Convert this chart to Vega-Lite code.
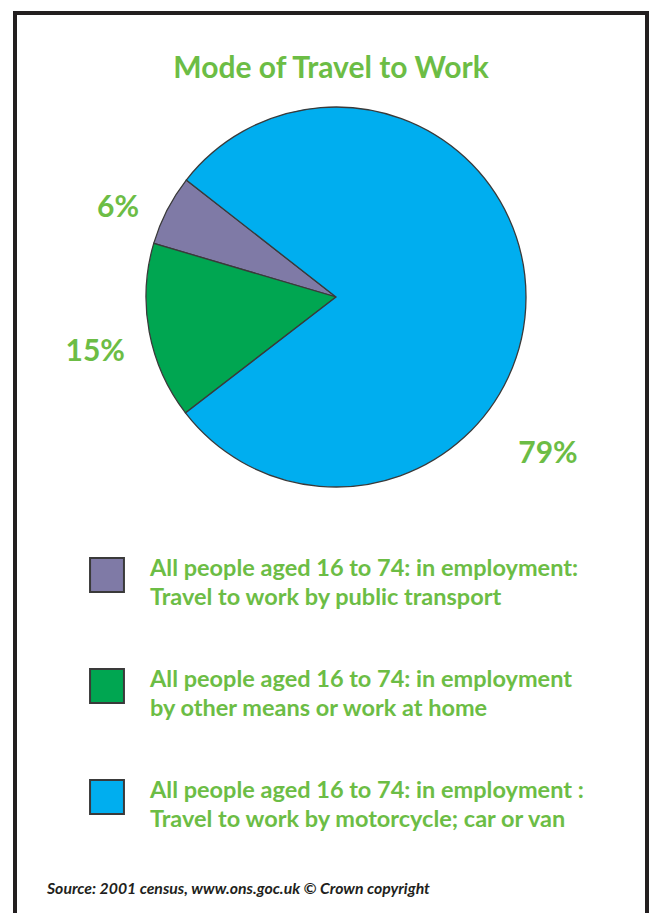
{
  "$schema": "https://vega.github.io/schema/vega-lite/v6.json",
  "autosize": {"type": "fit", "contains": "padding"},
  "width": 653,
  "height": 913,
  "padding": {"left": 15, "top": 13, "right": 6, "bottom": -4},
  "background": "white",
  "config": {"view": {"stroke": "#231f20", "strokeWidth": 4}, "font": "Lato"},
  "title": {"text": "Mode of Travel to Work", "color": "#6cbd45", "fontSize": 30, "font": "Lato", "fontWeight": "bold", "anchor": "middle", "offset": -71},
  "data": {"values": [
    {"mode": "Public transport", "pct": 6, "order": 1, "label": "6%", "legend": "All people aged 16 to 74: in employment:\nTravel to work by public transport"},
    {"mode": "Other means or work at home", "pct": 15, "order": 2, "label": "15%", "legend": "All people aged 16 to 74: in employment\nby other means or work at home"},
    {"mode": "Motorcycle, car or van", "pct": 79, "order": 3, "label": "79%", "legend": "All people aged 16 to 74: in employment :\nTravel to work by motorcycle; car or van"}
  ]},
  "encoding": {
    "color": {"field": "mode", "type": "nominal", "scale": {"domain": ["Public transport", "Other means or work at home", "Motorcycle, car or van"], "range": ["#7f7aa6", "#00a651", "#00aeef"]}, "legend": null}
  },
  "layer": [
    {
      "mark": {"type": "arc", "x": 321, "y": 284, "outerRadius": 190, "stroke": "#3a3a3a", "strokeWidth": 1.3},
      "encoding": {
        "theta": {"field": "pct", "type": "quantitative", "stack": true, "scale": {"range": [5.3756, -0.9076]}},
        "order": {"field": "order", "type": "quantitative"}
      }
    },
    {
      "mark": {"type": "text", "x": 321, "y": 284, "radius": 235, "dx": -9, "dy": 18, "fontSize": 30, "fontWeight": "bold", "align": "center", "baseline": "middle"},
      "encoding": {
        "theta": {"field": "pct", "type": "quantitative", "stack": true},
        "order": {"field": "order", "type": "quantitative"},
        "color": {"value": "#6cbd45"},
        "text": {"condition": {"test": "datum.order === 1", "field": "label"}, "value": ""}
      }
    },
    {
      "mark": {"type": "text", "x": 321, "y": 284, "radius": 247, "dx": 2, "dy": 10, "fontSize": 30, "fontWeight": "bold", "align": "center", "baseline": "middle"},
      "encoding": {
        "theta": {"field": "pct", "type": "quantitative", "stack": true},
        "order": {"field": "order", "type": "quantitative"},
        "color": {"value": "#6cbd45"},
        "text": {"condition": {"test": "datum.order === 2", "field": "label"}, "value": ""}
      }
    },
    {
      "mark": {"type": "text", "x": 321, "y": 284, "radius": 212, "dx": 0, "dy": 156, "fontSize": 30, "fontWeight": "bold", "align": "center", "baseline": "middle"},
      "encoding": {
        "theta": {"field": "pct", "type": "quantitative", "stack": true},
        "order": {"field": "order", "type": "quantitative"},
        "color": {"value": "#6cbd45"},
        "text": {"condition": {"test": "datum.order === 3", "field": "label"}, "value": ""}
      }
    },
    {
      "mark": {"type": "point", "shape": "square", "size": 1150, "filled": true, "opacity": 1, "stroke": "#3a3a3a", "strokeWidth": 2, "x": 92},
      "encoding": {
        "y": {"field": "mode", "type": "nominal", "sort": ["Public transport", "Other means or work at home", "Motorcycle, car or van"], "scale": {"type": "point", "range": [562, 784], "padding": 0}, "axis": null}
      }
    },
    {
      "mark": {"type": "text", "x": 135, "dy": -6, "align": "left", "baseline": "middle", "lineBreak": "\n", "lineHeight": 29, "fontSize": 23.5, "fontWeight": "bold"},
      "encoding": {
        "y": {"field": "mode", "type": "nominal", "sort": ["Public transport", "Other means or work at home", "Motorcycle, car or van"], "axis": null},
        "color": {"value": "#6cbd45"},
        "text": {"field": "legend", "type": "nominal"}
      }
    },
    {
      "data": {"values": [{"note": "Source: 2001 census, www.ons.goc.uk © Crown copyright"}]},
      "mark": {"type": "text", "x": 32, "y": 876, "align": "left", "baseline": "middle", "fontSize": 15.8, "fontWeight": "bold", "fontStyle": "italic"},
      "encoding": {
        "color": {"value": "#231f20"},
        "text": {"field": "note", "type": "nominal"}
      }
    }
  ]
}
